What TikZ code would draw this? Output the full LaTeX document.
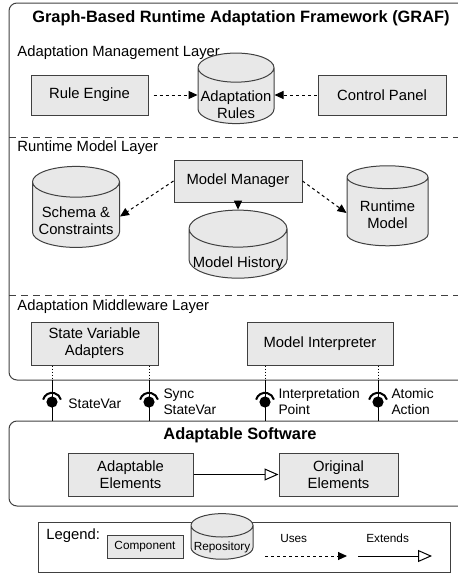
\documentclass[tikz,border=0pt]{standalone}
\usepackage{fontspec}
\setmainfont{Liberation Sans}
\usetikzlibrary{shapes.geometric,arrows.meta,positioning}
\definecolor{boxgray}{gray}{0.91}
\definecolor{linegray}{gray}{0.25}
\newcommand{\txtfont}{\fontsize{7.4}{8.4}\selectfont}
\newcommand{\smallfont}{\fontsize{5.9}{7}\selectfont}
\tikzset{
  comp/.style={draw=linegray, fill=boxgray, rectangle, align=center, inner sep=1pt, font=\txtfont},
  repo/.style={draw=linegray, fill=boxgray, cylinder, shape border rotate=90, aspect=0.4, align=center, inner sep=0.5pt, font=\txtfont},
  repotext/.style={font=\txtfont, align=center, inner sep=0pt},
  uses/.style={draw=black, dash pattern=on 1.5pt off 1.5pt, -{Triangle[length=4.5pt,width=4pt]}},
  extends/.style={draw=black, -{Triangle[open,length=7pt,width=6pt,fill=white]}},
  layer/.style={anchor=west, inner sep=0pt, font=\txtfont},
  heading/.style={inner sep=0pt, font=\fontsize{8.2}{9.6}\selectfont\bfseries},
  sep/.style={draw=linegray, dash pattern=on 3.5pt off 2.5pt},
  frame/.style={draw=linegray, line width=0.5pt, rounded corners=4pt},
  portlabel/.style={anchor=west, align=left, inner sep=0pt, font=\fontsize{6.9}{8}\selectfont},
}
\begin{document}
\begin{tikzpicture}[x=0.5pt,y=-0.5pt,line width=0.5pt]
  \clip (0,0) rectangle (458,573);
  %% GRAF frame
  \draw[frame] (470,380) -- (9,380) -- (9,3) -- (470,3);
  \coordinate (grafbot) at (9,380);
  \node[heading] (graf) at (241,18) {Graph-Based Runtime Adaptation Framework (GRAF)};
  %% Adaptation management layer
  \node[layer] (aml) at (17,53) {Adaptation Management Layer};
  \node[comp,minimum width=58.5pt,minimum height=20pt] (rule) at (89.5,95) {Rule Engine};
  \node[repo,minimum width=38pt,minimum height=25.5pt,
        label={[repotext,yshift=-3.5pt]center:{Adaptation\\Rules}}] (rules) at (236,97.5)
        {\phantom{Adaptation}\\\phantom{Rules}};
  \node[comp,minimum width=64pt,minimum height=20pt] (panel) at (382,95) {Control Panel};
  \draw[uses] ([xshift=2.5pt]rule.east) -- (rule.east -| rules.west);
  \draw[uses] ([xshift=-0.5pt]panel.west) -- (panel.west -| rules.east);
  \draw[sep] (9,137) -- (470,137);
  %% Runtime model layer
  \node[layer] (rml) at (17,148) {Runtime Model Layer};
  \node[comp,minimum width=64pt,minimum height=21pt] (mm) at (238,181) {Model Manager};
  \node[repo,minimum width=43.5pt,minimum height=40.5pt,
        label={[repotext,yshift=-2pt]center:{Schema \&\\Constraints}}] (schema) at (76,216.5)
        {\phantom{Schema \&}\\\phantom{Constraints}};
  \node[repo,minimum width=49pt,minimum height=24.5pt,
        label={[repotext,yshift=-4pt]center:{Model History}}] (hist) at (238,255.5)
        {\phantom{Model History}};
  \node[repo,minimum width=40.5pt,minimum height=40pt,
        label={[repotext,yshift=-1pt]center:{Runtime\\Model}}] (rtm) at (387.5,213)
        {\phantom{Runtime}\\\phantom{Model}};
  \draw[uses] (mm.west) -- (schema.east);
  \draw[uses] (mm.south) -- (hist.north);
  \draw[uses] (mm.east) -- (rtm.west);
  \draw[sep] (9,295) -- (470,295);
  %% Adaptation middleware layer
  \node[layer] (mwl) at (17,307) {Adaptation Middleware Layer};
  \node[comp,minimum width=63.5pt,minimum height=21.5pt] (sva) at (94.5,343.5) {State Variable\\Adapters};
  \node[comp,minimum width=73pt,minimum height=21.5pt] (mi) at (320,343.5) {Model Interpreter};
  %% Adaptable software
  \draw[frame] (470,421) -- (9,421) -- (9,506) -- (470,506);
  \coordinate (swtop) at (9,421);
  \node[heading] (sw) at (240,435) {Adaptable Software};
  \node[comp,minimum width=62.5pt,minimum height=21.5pt] (ae) at (130.5,474.5) {Adaptable\\Elements};
  \node[comp,minimum width=59.5pt,minimum height=21.5pt] (oe) at (338.5,474.5) {Original\\Elements};
  \draw[extends] (ae) -- (oe);
  %% Ports
  \coordinate (sv) at (52,402);
  \coordinate (ssv) at (149,402);
  \coordinate (ip) at (265,402);
  \coordinate (aa) at (378,402);
  \foreach \p/\b in {sv/sva, ssv/sva, ip/mi, aa/mi} {
    \draw[densely dotted] (\b.south -| \p) -- (grafbot -| \p);
    \draw (grafbot -| \p) -- (swtop -| \p);
    \fill (\p) circle[radius=2.8pt];
    \draw[line width=1pt] ([shift={(165:4.6pt)}]\p) arc[start angle=165,end angle=15,radius=4.6pt];
  }
  \node[portlabel] (svl) at (68,404) {StateVar};
  \node[portlabel] (ssvl) at (163,402) {Sync\\StateVar};
  \node[portlabel] (ipl) at (278,402) {Interpretation\\Point};
  \node[portlabel] (aal) at (391,402) {Atomic\\Action};
  %% Legend
  \node[draw=linegray,minimum width=206pt,minimum height=25pt,inner sep=0pt] (legend) at (244,547) {};
  \node[layer] (lgd) at (46,536) {Legend:};
  \node[comp,font=\smallfont,minimum width=38pt,minimum height=11.5pt] (lcomp) at (145,546.5) {Component};
  \node[repo,font=\smallfont,minimum width=31pt,minimum height=16pt,
        label={[repotext,font=\smallfont,yshift=-1.8pt]center:{Repository}}] (lrepo) at (222,544)
        {\phantom{Repository}};
  \coordinate (u1) at (265,556);
  \coordinate (u2) at (347,556);
  \coordinate (e1) at (358,556);
  \coordinate (e2) at (432,556);
  \draw[uses] (u1) -- (u2) node[pos=0.35,above=3pt,font=\smallfont] (luses) {Uses};
  \draw[extends] (e1) -- (e2) node[pos=0.4,above=3pt,font=\smallfont] (lext) {Extends};
\end{tikzpicture}
\end{document}
